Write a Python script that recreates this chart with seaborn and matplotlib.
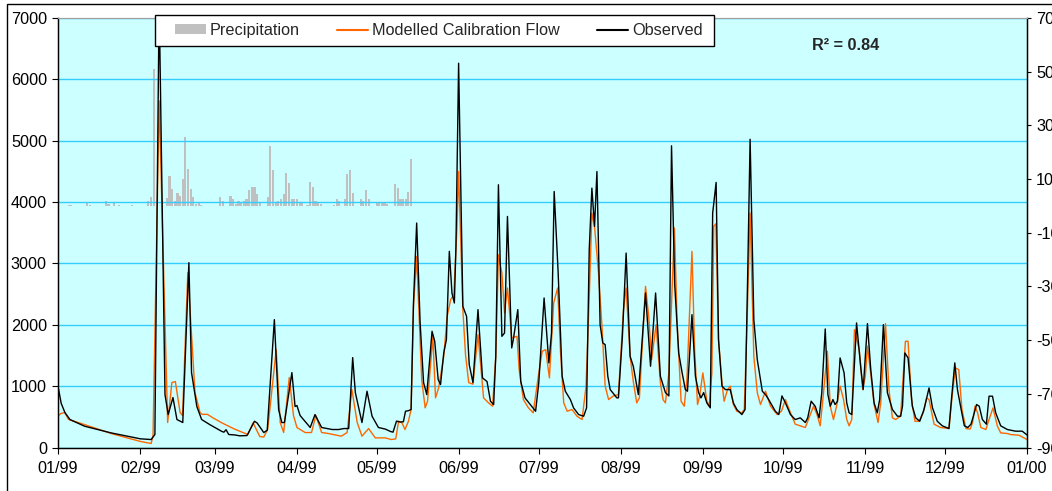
import seaborn as sns
import matplotlib.pyplot as plt
from matplotlib.patches import Patch, Rectangle
from matplotlib.lines import Line2D

sns.set_style("ticks")
plt.rcParams['font.family'] = ['Liberation Sans', 'DejaVu Sans']
plt.rcParams['axes.unicode_minus'] = False

# x axis: day of year 1999
month_days = [0, 31, 59, 90, 120, 151, 181, 212, 243, 273, 304, 334, 365]
month_labels = ["01/99", "02/99", "03/99", "04/99", "05/99", "06/99", "07/99",
                "08/99", "09/99", "10/99", "11/99", "12/99", "01/00"]

# Observed flow (day, value)
obs_day = [0, 1.2, 2.6, 4.5, 10, 20, 31.1, 35.1, 36.5, 38.1, 40.3, 41.5, 43.3, 44.8, 47.0,
           49.3, 50.3, 52.3, 54.1, 57.3, 61.8, 62.5, 63.3, 64.3, 66.5, 68.5, 71.2, 74.0, 75.0,
           77.5, 78.8, 81.5, 83.1, 84.3, 85.3, 88.1, 89.3, 90.0, 91.2, 95.0, 96.8, 99.3, 103.3,
           105.7, 107.7, 109.5, 111.0, 112.0, 114.5, 116.4, 118.3, 120.7, 123.3, 125.3, 126.2,
           127.5, 128.9, 130.1, 130.9, 132.0, 133.0, 133.9, 135.1, 136.4, 137.7, 138.9, 140.9,
           141.9, 143.2, 144.1, 145.3, 146.3, 147.4, 148.4, 149.3, 149.9, 150.9, 152.5, 153.9,
           154.9, 156.3, 158.2, 159.9, 161.6, 162.9, 164.1, 164.9, 165.9, 167.2, 168.2, 169.3,
           170.9, 171.5, 173.2, 174.3, 175.9, 177.9, 179.9, 181.1, 183.1, 184.9, 185.9, 186.9,
           188.4, 189.9, 191.1, 193.0, 194.2, 196.1, 198.0, 199.1, 200.1, 201.1, 202.1, 203.0,
           204.2, 205.2, 206.1, 207.1, 208.0, 210.5, 211.1, 212.6, 214.0, 215.5, 216.7, 218.6,
           221.3, 223.2, 225.1, 226.9, 228.8, 230.1, 231.1, 232.3, 233.8, 235.1, 236.3, 237.1,
           238.8, 240.1, 241.3, 242.2, 243.2, 244.4, 245.7, 246.6, 247.9, 248.8, 250.1, 251.4,
           253.2, 254.4, 255.7, 257.6, 258.8, 259.8, 260.7, 262.1, 263.4, 265.3, 266.5, 267.7,
           270.2, 271.5, 272.7, 274.0, 275.9, 277.7, 279.6, 281.5, 282.4, 283.7, 285.2, 286.7,
           287.7, 289.0, 290.0, 290.9, 291.9, 292.7, 293.6, 294.6, 296.1, 297.1, 298.0, 299.0,
           300.8, 302.4, 303.3, 304.9, 306.1, 307.4, 308.6, 309.5, 310.9, 312.4, 314.3, 316.2,
           317.4, 318.1, 319.0, 320.2, 321.8, 323.1, 324.6, 326.2, 328.1, 329.4, 331.2, 333.1,
           335.6, 336.6, 337.8, 338.8, 340.2, 341.4, 342.7, 343.9, 344.8, 346.0, 347.0, 348.2,
           349.7, 350.7, 352.0, 353.2, 355.1, 357.6, 360.7, 363.2, 365.0]
obs_flow = [1000, 720, 570, 456, 347, 238, 141, 130, 212, 7300, 863, 537, 814, 456, 407,
            3012, 1221, 668, 456, 370, 260, 250, 290, 212, 205, 190, 195, 428, 400,
            244, 280, 2084, 619, 407, 407, 1221, 668, 684, 521, 326, 537, 326, 293,
            293, 309, 309, 1465, 895, 407, 917, 510, 326, 300, 260, 250,
            430, 415, 420, 591, 600, 619, 2355, 3658, 2035, 1058, 863, 1894,
            1731, 1107, 1026, 1541, 1758, 3197, 2518, 2355, 3277, 6263, 2300, 2138,
            1351, 1058, 2247, 1134, 1075, 754, 700, 1486, 4282, 1812, 1866, 3766,
            1623, 1758, 2247, 1075, 809, 700, 591, 1058, 2437, 1379, 1867, 4173,
            2844, 1161, 917, 781, 646, 537, 510, 646, 3223, 4227, 3603, 4498,
            2002, 1704, 1677, 1161, 944, 809, 809, 1812, 3169, 1486, 1324, 863,
            2518, 1324, 2518, 1161, 895, 841, 4917, 2654, 1541, 1216, 944, 917,
            2165, 1161, 895, 809, 895, 727, 646, 3821, 4320, 1758, 1000, 944,
            944, 727, 619, 537, 619, 2844, 5024, 2084, 1433, 917, 863, 781,
            591, 537, 841, 727, 537, 456, 483, 407, 483, 754, 673, 483,
            895, 1932, 863, 673, 781, 700, 754, 1460, 1216, 727, 565, 537,
            2030, 1297, 944, 2019, 1297, 727, 565, 781, 2002, 895, 619, 510,
            510, 673, 1541, 1460, 673, 483, 428, 619, 971, 646, 428, 353,
            309, 809, 1379, 944, 619, 353, 326, 380, 510, 700, 673, 456,
            380, 836, 836, 565, 353, 293, 266, 266, 205]

# Modelled calibration flow (day, value)
mod_day = [0, 1.0, 2.5, 4.0, 10, 20, 31.1, 35.1, 35.8, 38.1, 41.3, 42.9, 44.2, 46.0, 46.9,
           48.9, 51.6, 53.5, 54.3, 56.3, 58.5, 61.8, 66.5, 71.5, 73.5, 76.0, 77.5, 79.0, 82.2,
           83.7, 85.0, 87.1, 88.7, 90.0, 93.1, 95.5, 97.1, 99.3, 101.9, 106.7, 108.9, 110.7,
           112.7, 114.5, 117.0, 119.5, 123.3, 125.5, 127.2, 128.3, 129.5, 130.7, 132.0, 133.0,
           133.9, 135.1, 137.0, 138.3, 139.2, 141.2, 142.2, 143.4, 145.3, 146.6, 147.9, 149.1,
           150.3, 150.9, 152.5, 153.5, 154.7, 156.3, 158.2, 160.3, 162.2, 163.7, 164.9, 165.9,
           167.2, 168.2, 169.3, 170.9, 172.9, 173.7, 175.3, 177.2, 179.0, 181.1, 182.4, 183.7,
           185.1, 186.7, 188.2, 189.3, 190.5, 191.8, 193.6, 195.5, 197.4, 198.9, 200.2, 201.1,
           202.1, 203.6, 204.9, 206.1, 207.4, 209.2, 211.1, 213.0, 214.0, 215.5, 216.7, 218.0,
           219.0, 221.3, 222.5, 223.6, 225.3, 226.9, 227.9, 228.8, 230.1, 232.2, 233.2, 234.7,
           235.9, 236.9, 238.8, 239.8, 240.9, 241.7, 242.9, 244.4, 245.3, 246.3, 247.0, 247.8,
           248.8, 250.1, 250.9, 252.2, 253.2, 254.4, 255.7, 257.6, 258.5, 259.4, 260.7, 262.1,
           263.4, 264.6, 266.5, 268.4, 270.9, 272.5, 274.0, 275.9, 277.7, 279.6, 281.5, 283.4,
           284.6, 285.9, 287.1, 288.1, 289.8, 290.9, 292.1, 293.4, 294.6, 295.9, 297.1, 298.0,
           299.0, 300.0, 301.8, 303.1, 304.1, 304.9, 306.1, 307.4, 308.9, 309.9, 311.7, 313.0,
           314.3, 315.5, 317.4, 319.2, 320.2, 321.5, 322.8, 324.3, 325.9, 327.2, 328.1, 330.0,
           332.4, 335.6, 336.8, 338.0, 339.3, 340.5, 342.0, 343.6, 344.5, 345.4, 346.4, 347.6,
           349.5, 350.7, 352.2, 353.8, 355.1, 357.6, 358.9, 362.0, 363.5, 365.0]
mod_flow = [510, 553, 570, 456, 374, 228, 98, 65, 200, 5650, 407, 1058, 1075, 570, 521,
            2849, 895, 570, 540, 540, 480, 400, 300, 212, 402, 179, 170, 300, 1595,
            407, 244, 1140, 521, 326, 244, 244, 521, 244, 228, 184, 244, 944,
            407, 184, 309, 157, 157, 130, 140, 428, 407, 293, 428, 619,
            2300, 3115, 1107, 646, 754, 1812, 809, 977, 1486, 2138, 2410, 2490,
            3603, 4498, 2247, 1514, 1058, 1031, 1840, 809, 727, 673, 1486, 3142,
            2844, 2193, 2600, 1786, 1812, 1270, 781, 646, 565, 1216, 1568, 1595,
            1134, 2355, 2600, 1541, 727, 591, 619, 510, 456, 1000, 2573, 3821,
            3603, 2844, 1975, 1000, 781, 841, 863, 2247, 2600, 1486, 1075, 727,
            809, 2627, 2138, 1433, 2002, 1058, 781, 727, 1216, 3577, 2057, 754,
            673, 1107, 3196, 1595, 700, 841, 1216, 754, 673, 1216, 3603, 3647,
            1758, 1058, 754, 944, 1000, 700, 591, 565, 619, 1812, 3821, 1486,
            895, 700, 917, 673, 537, 591, 781, 565, 380, 353, 326, 537,
            673, 537, 353, 781, 1568, 673, 456, 700, 1000, 781, 456, 353,
            456, 1921, 1595, 944, 1161, 1650, 1216, 700, 407, 727, 2019, 944,
            483, 456, 510, 1731, 1731, 781, 428, 428, 565, 809, 781, 380,
            326, 309, 836, 1297, 1270, 619, 309, 300, 407, 673, 565, 326,
            293, 456, 646, 353, 238, 228, 211, 200, 165, 130]

# Precipitation (day, value on right axis)
rain_day = [4, 5, 11, 12, 18, 19, 21, 23, 28, 34, 35, 36,
            41, 42, 43, 44, 45, 46, 47, 48, 49, 50, 51, 52, 53, 54,
            61, 62, 65, 66, 67, 68, 69, 70, 71, 72, 73, 74, 75, 76,
            79, 80, 81, 82, 83, 84, 85, 86, 87, 88, 89, 90, 91, 92,
            94, 95, 96, 97, 98, 99, 104, 105, 106, 108, 109, 110, 111,
            114, 115, 116, 117, 120, 121, 122, 123, 124,
            127, 128, 129, 130, 131, 132, 133]
rain_mm = [0.3, 0.3, 1.3, 0.3, 1.7, 0.8, 1.0, 0.3, 0.3, 1.7, 3.2, 51.0,
           3.0, 11.0, 6.3, 1.8, 4.8, 3.6, 9.9, 25.6, 13.6, 6.2, 3.5, 0.6, 1.5, 0.4,
           3.3, 1.7, 3.6, 2.4, 0.6, 1.7, 1.5, 1.7, 2.7, 5.8, 7.0, 7.0, 4.3, 1.5,
           3.3, 22.3, 13.3, 1.5, 1.9, 2.7, 4.3, 12.3, 8.6, 2.6, 2.7, 2.4, 1.2, 1.2,
           0.4, 8.9, 7.0, 2.0, 1.2, 0.6, 0.5, 2.4, 1.7, 2.7, 11.8, 13.5, 4.7,
           2.4, 2.0, 5.8, 2.7, 1.5, 1.5, 1.5, 1.5, 0.6,
           8.0, 6.8, 2.6, 2.7, 2.7, 5.0, 17.3]

W, H = 1052, 491
fs = 11.7

fig = plt.figure(figsize=(W / 100, H / 100), dpi=100)
ax = fig.add_axes([58 / W, (H - 447.5) / H, 969 / W, 429.5 / H])
ax2 = ax.twinx()
ax.set_zorder(ax2.get_zorder() + 1)
ax.patch.set_visible(False)
ax2.patch.set_visible(True)
ax2.patch.set_facecolor('#CCFFFF')

# precipitation bars on the secondary axis
ax2.bar(rain_day, rain_mm, width=0.8, color='#C0C0C0', linewidth=0)

# flow lines
sns.lineplot(x=mod_day, y=mod_flow, ax=ax, color='#FF6600', lw=1.0,
             sort=False, estimator=None)
sns.lineplot(x=obs_day, y=obs_flow, ax=ax, color='black', lw=1.0,
             sort=False, estimator=None)

ax.set_xlim(0, 365)
ax.set_ylim(0, 7000)
ax2.set_ylim(-90, 70)
ax.set_xticks(month_days)
ax.set_xticklabels(month_labels)
ax.set_yticks(range(0, 7001, 1000))
ax2.set_yticks(range(-90, 71, 20))
ax.set_xlabel('')
ax.set_ylabel('')

ax.grid(axis='y', color='#33CCFF', lw=1.0)
ax.grid(axis='x', visible=False)

for sp in ['left', 'bottom', 'right']:
    ax.spines[sp].set_color('black')
    ax.spines[sp].set_linewidth(1.0)
ax.spines['top'].set_visible(True)
ax.spines['top'].set_color('#A0A0A0')
ax2.spines['top'].set_color('#A0A0A0')
ax2.spines['right'].set_color('black')

ax.tick_params(axis='y', direction='out', length=4, width=0.8, pad=4, labelsize=fs, colors='black')
ax.tick_params(axis='x', direction='out', length=4, width=0.8, pad=6, labelsize=fs, colors='black')
ax2.tick_params(axis='y', direction='out', length=3, width=0.8, pad=3.5, labelsize=fs, colors='black')

# legend box
fig.add_artist(Rectangle((155 / W, 1 - 46 / H), (714 - 155) / W, 31 / H,
                         transform=fig.transFigure, facecolor='white',
                         edgecolor='black', lw=1.0, zorder=3))
handles = [Patch(facecolor='#C0C0C0', edgecolor='none'),
           Line2D([], [], color='#FF6600', lw=1.5),
           Line2D([], [], color='black', lw=1.5)]
labels = ['Precipitation', 'Modelled Calibration Flow', 'Observed']
leg = fig.legend(handles, labels, loc='center left',
                 bbox_to_anchor=(175 / W, 1 - 30.5 / H), ncol=3, frameon=False,
                 fontsize=fs, handlelength=1.9, handletextpad=0.25,
                 columnspacing=2.3, borderpad=0, borderaxespad=0,
                 handleheight=0.55)
leg.set_zorder(5)

fig.text(812 / W, 1 - 45 / H, 'R² = 0.84', fontsize=fs, fontweight='bold',
         ha='left', va='center')

# outer chart frame
fig.add_artist(Rectangle((7 / W, -0.05), 1.0, (H - 4) / H + 0.05,
                         transform=fig.transFigure, fill=False,
                         edgecolor='black', lw=1.0, zorder=10, clip_on=False))

fig.savefig('out.png', dpi=100)
plt.close(fig)
